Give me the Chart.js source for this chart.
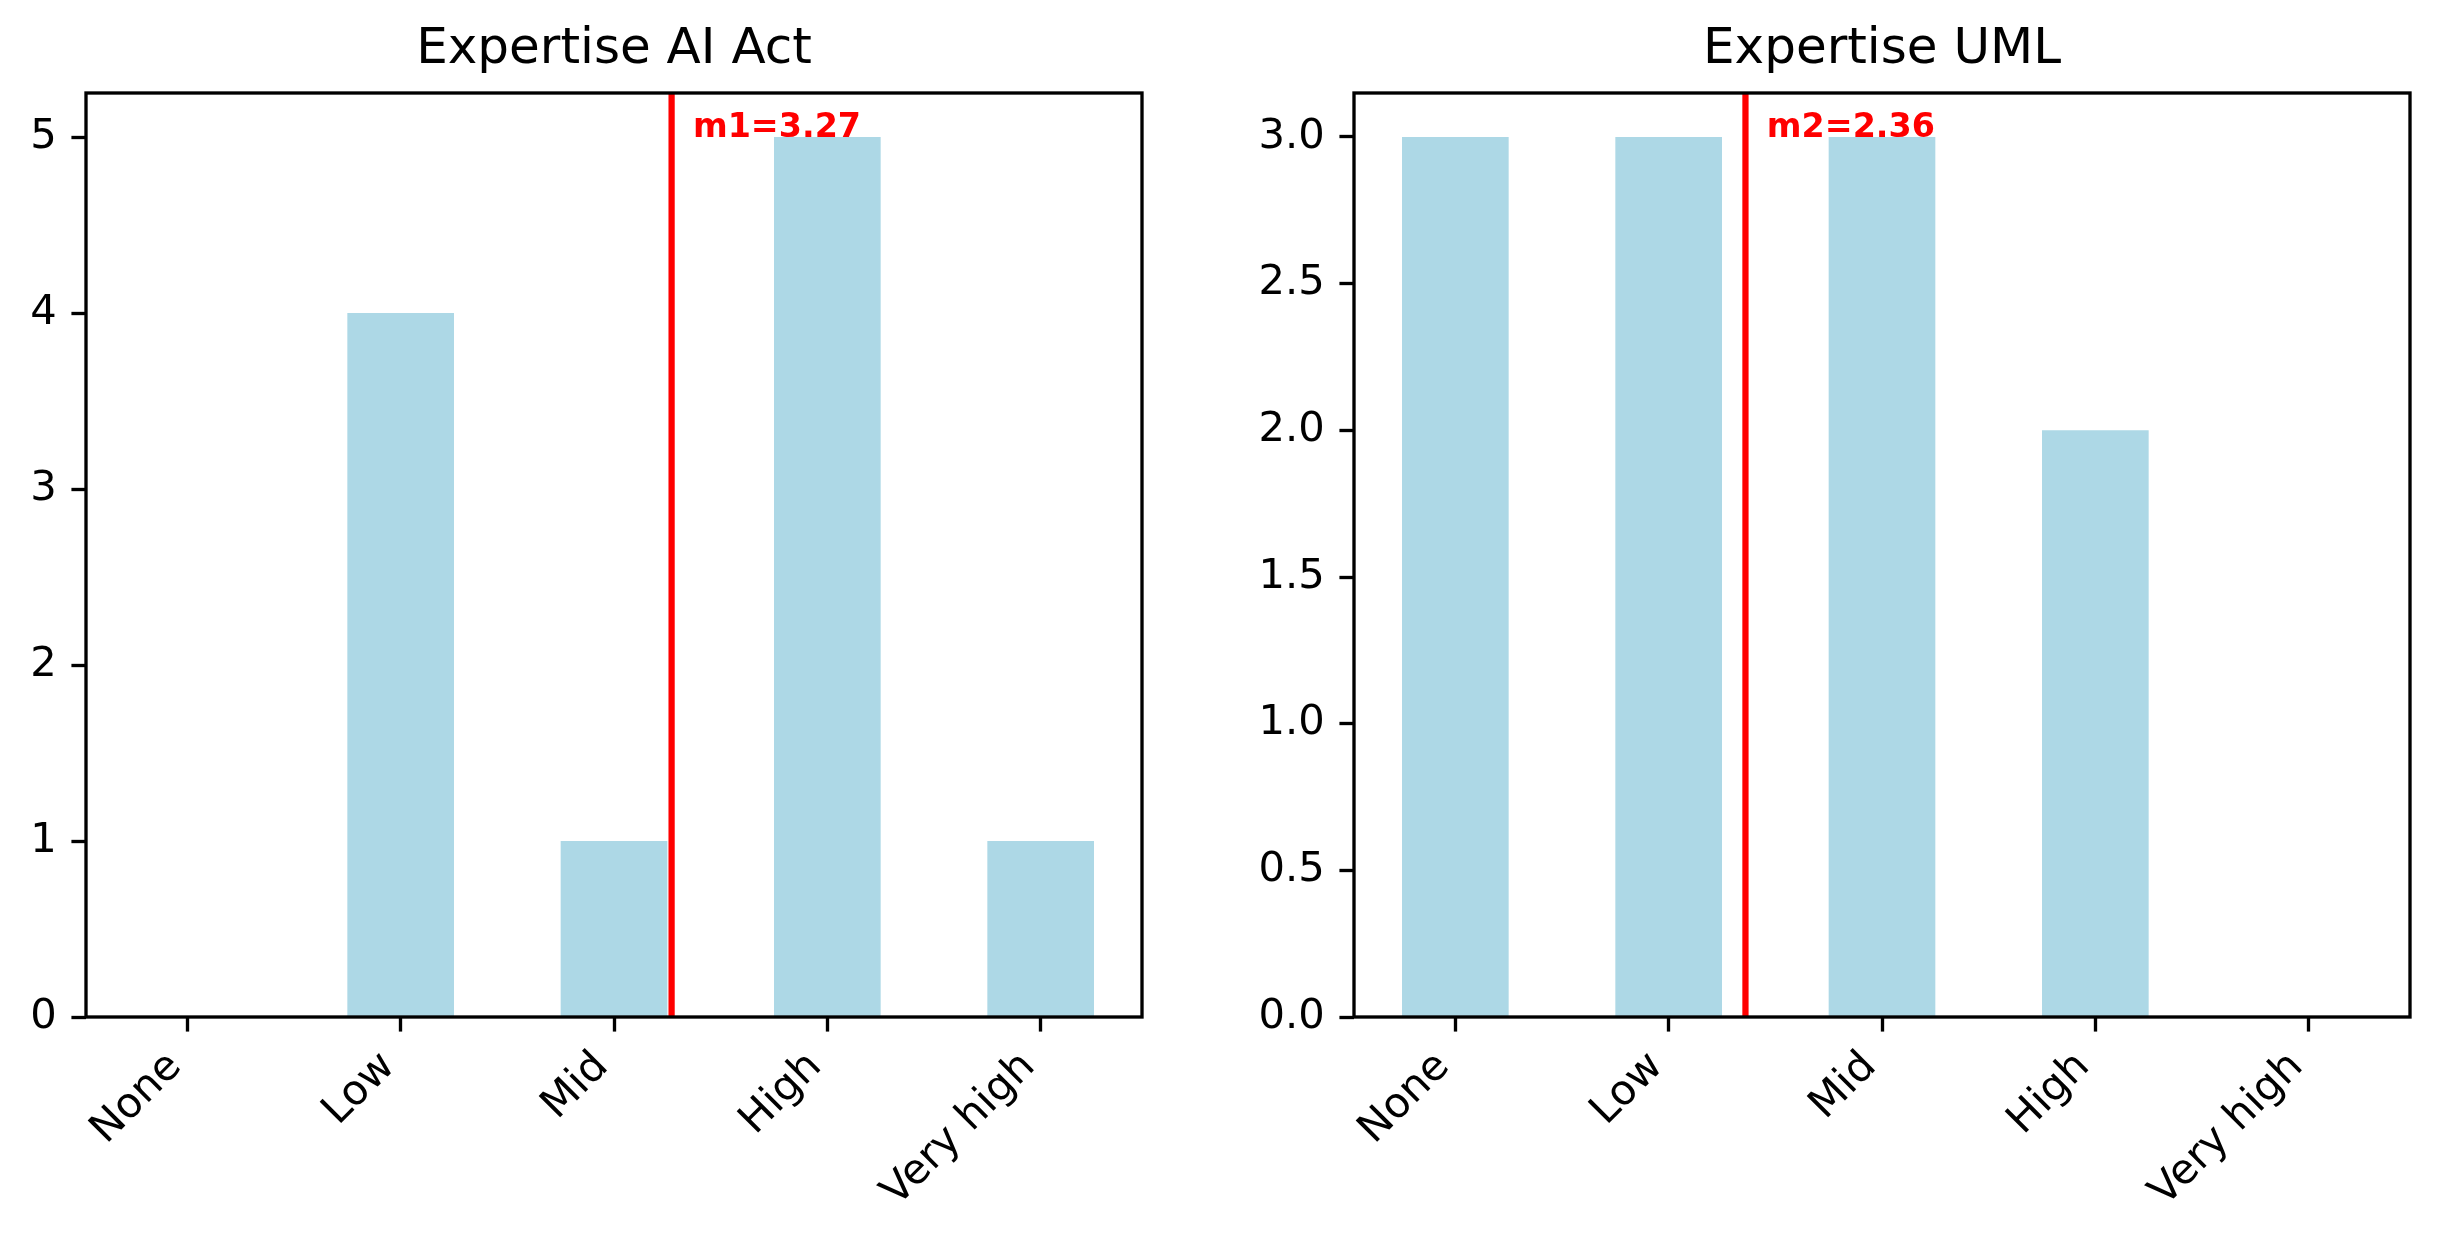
<!DOCTYPE html>
<html>
<head>
<meta charset="utf-8">
<script src="https://cdn.jsdelivr.net/npm/chart.js@4/dist/chart.umd.min.js"></script>
<style>
  html, body { margin: 0; padding: 0; background: #fff; }
  #wrap { position: relative; width: 2440px; height: 1243px; }
  canvas { position: absolute; top: 0; }
</style>
</head>
<body>
<div id="wrap">
  <canvas id="c1" width="1220" height="1243" style="left:0"></canvas>
  <canvas id="c2" width="1220" height="1243" style="left:1220px"></canvas>
</div>
<script>
// ---- data ----
const categories = ["None", "Low", "Mid", "High", "Very high"];
const levels = [1, 2, 3, 4, 5];
const aiActCounts = [0, 4, 1, 5, 1];
const umlCounts = [3, 3, 3, 2, 0];
const titles = ["Expertise AI Act", "Expertise UML"];
const means = [3.27, 2.36];
const meanLabels = ["m1=3.27", "m2=2.36"];
const yTicksAI = [0, 1, 2, 3, 4, 5];
const yTicksUML = [0, 0.5, 1.0, 1.5, 2.0, 2.5, 3.0];
const yMaxAI = 5.25;
const yMaxUML = 3.15;

// ---- style ----
const PX = 300 / 72;           // matplotlib points -> px at 300 dpi
const FONT = "'DejaVu Sans', 'Liberation Sans', sans-serif";
Chart.defaults.font.family = FONT;
Chart.defaults.color = '#000';
const BAR = '#ADD8E6';
const RED = '#FF0000';
const SPINE_W = 0.8 * PX;
const TICK_LEN = 3.5 * PX;
const TICK_PAD = 3.5 * PX;

const spinesAndLabel = {
  id: 'spinesAndLabel',
  afterDatasetsDraw(chart, args, opts) {
    const ctx = chart.ctx;
    const xs = chart.scales.x, ys = chart.scales.y;
    ctx.save();
    ctx.fillStyle = RED;
    ctx.font = 'bold ' + (8 * PX) + 'px ' + FONT;
    ctx.textAlign = 'left';
    ctx.textBaseline = 'alphabetic';
    ctx.fillText(opts.label, xs.getPixelForValue(opts.mean + 0.1), ys.getPixelForValue(opts.labelY));
    const a = chart.chartArea;
    ctx.strokeStyle = '#000';
    ctx.lineWidth = SPINE_W;
    ctx.lineJoin = 'miter';
    ctx.lineCap = 'square';
    ctx.strokeRect(a.left, a.top, a.right - a.left, a.bottom - a.top);
    ctx.restore();
  }
};

function makeChart(id, counts, title, mean, label, yTicks, yMax, decimals, yWidth, padRight) {
  const barData = levels.map((lv, i) => ({ x: lv, y: counts[i] }));
  const maxCount = Math.max(...counts);
  return new Chart(document.getElementById(id), {
    type: 'bar',
    data: {
      datasets: [
        {
          type: 'line',
          data: [{ x: mean, y: 0 }, { x: mean, y: yMax }],
          borderColor: RED,
          borderWidth: 1.5 * PX,
          pointRadius: 0,
          borderCapStyle: 'butt',
          order: 0
        },
        {
          type: 'bar',
          data: barData,
          backgroundColor: BAR,
          borderWidth: 0,
          barPercentage: 0.5,
          categoryPercentage: 1.0,
          order: 1
        }
      ]
    },
    options: {
      responsive: false,
      animation: false,
      devicePixelRatio: 1,
      layout: { padding: { left: 0, right: padRight, top: 0, bottom: 0 } },
      plugins: {
        legend: { display: false },
        tooltip: { enabled: false },
        title: {
          display: true,
          text: title,
          fullSize: false,
          color: '#000',
          font: { size: 12 * PX, weight: 'normal', family: FONT },
          padding: { top: 20.5, bottom: 12.5 }
        },
        spinesAndLabel: { mean: mean, label: label, labelY: maxCount }
      },
      scales: {
        x: {
          type: 'linear',
          offset: false,
          min: 0.525,
          max: 5.475,
          afterBuildTicks: s => { s.ticks = levels.map(v => ({ value: v })); },
          afterFit: s => { s.height = 1243 - 1017; },
          grid: {
            display: true, offset: false, drawOnChartArea: false, drawTicks: true,
            tickLength: TICK_LEN, tickWidth: SPINE_W, tickColor: '#000'
          },
          border: { display: false },
          ticks: {
            autoSkip: false,
            minRotation: 45, maxRotation: 45,
            padding: 11,
            labelOffset: -12,
            font: { size: 10 * PX, family: FONT },
            color: '#000',
            callback: (v, i) => categories[levels.indexOf(v)]
          }
        },
        y: {
          type: 'linear',
          min: 0,
          max: yMax,
          afterBuildTicks: s => { s.ticks = yTicks.map(v => ({ value: v })); },
          afterFit: s => { s.width = yWidth; },
          grid: {
            display: true, drawOnChartArea: false, drawTicks: true,
            tickLength: TICK_LEN, tickWidth: SPINE_W, tickColor: '#000'
          },
          border: { display: false },
          ticks: {
            padding: TICK_PAD,
            font: { size: 10 * PX, family: FONT },
            color: '#000',
            callback: v => v.toFixed(decimals)
          }
        }
      }
    },
    plugins: [spinesAndLabel]
  });
}

makeChart('c1', aiActCounts, titles[0], means[0], meanLabels[0], yTicksAI, yMaxAI, 0, 86, 78);
makeChart('c2', umlCounts, titles[1], means[1], meanLabels[1], yTicksUML, yMaxUML, 1, 134, 30);
</script>
</body>
</html>
